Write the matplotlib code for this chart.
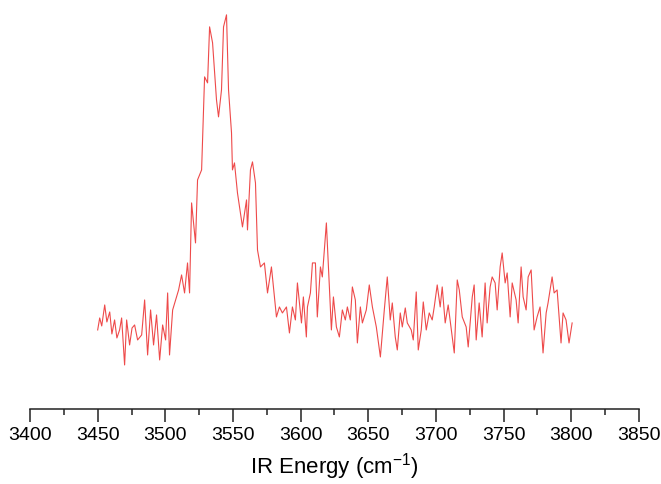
import numpy as np
import matplotlib
matplotlib.use("Agg")
import matplotlib.pyplot as plt
from matplotlib.ticker import MultipleLocator

plt.rcParams['font.family'] = ['Liberation Sans', 'DejaVu Sans']
plt.rcParams['mathtext.fontset'] = 'custom'
plt.rcParams['mathtext.rm'] = 'Liberation Sans'
plt.rcParams['mathtext.it'] = 'Liberation Sans'

# IR spectrum (wavenumber in cm-1, intensity in arbitrary units)
wavenumber = [
    3450.0, 3451.5, 3453.0, 3455.2, 3456.8, 3458.9, 3460.5, 3462.5, 3464.2, 3466.2,
    3467.7, 3469.9, 3471.4, 3473.6, 3475.4, 3477.3,
    3479.5, 3482.5, 3484.7, 3486.9, 3489.1, 3491.3, 3493.5, 3495.8, 3498.0, 3500.2,
    3501.7, 3503.1, 3505.4, 3507.6, 3509.8, 3512.0, 3514.2, 3516.4, 3517.9, 3519.4,
    3522.3, 3523.8, 3526.8, 3529.0, 3531.2, 3532.7, 3534.9, 3537.8, 3539.3, 3541.5,
    3543.0, 3545.2, 3546.7, 3548.9, 3549.6, 3551.1, 3553.3, 3554.8, 3557.0, 3560.0,
    3560.7, 3562.9, 3564.4, 3566.6, 3568.1, 3570.3, 3573.2, 3575.5, 3578.4, 3582.1,
    3584.3, 3586.5, 3589.5, 3591.7, 3593.9, 3596.1, 3597.6, 3600.6, 3602.0, 3604.2,
    3605.0, 3607.2, 3608.7, 3610.9, 3612.3, 3614.6, 3616.0, 3619.0, 3620.5, 3622.7,
    3624.2, 3626.4, 3628.6, 3630.8, 3633.0, 3634.5, 3636.7, 3638.2, 3640.4, 3641.9,
    3644.1, 3645.6, 3648.5, 3650.7, 3653.0, 3655.9, 3658.9, 3661.8, 3664.0, 3666.2,
    3667.7, 3669.9, 3671.4, 3673.6, 3675.1, 3677.3, 3678.8, 3681.7, 3683.2, 3685.4,
    3686.9, 3689.1, 3690.6, 3692.8, 3695.0, 3697.2, 3698.7, 3700.9, 3703.1, 3704.6,
    3706.8, 3709.0, 3712.0, 3713.5, 3715.7, 3717.2, 3719.4, 3722.3, 3723.8, 3726.8,
    3728.2, 3729.7, 3731.9, 3734.1, 3736.3, 3737.8, 3740.0, 3741.5, 3743.7, 3745.2,
    3747.4, 3748.9, 3751.1, 3752.6, 3754.8, 3756.3, 3759.2, 3760.7, 3762.9, 3764.4,
    3766.6, 3768.1, 3770.3, 3772.5, 3774.7, 3776.9, 3779.1, 3781.4, 3782.8, 3785.8,
    3787.3, 3789.5, 3792.4, 3793.9, 3796.1, 3798.3, 3800.6,
]
intensity = [
    70, 82, 74, 95, 78, 88, 66, 80, 62, 70,
    82, 35, 80, 55, 72, 75,
    60, 65, 100, 45, 90, 55, 85, 40, 75, 60,
    107, 45, 90, 100, 110, 125, 107, 137, 107, 197,
    157, 220, 230, 323, 317, 373, 357, 300, 283, 310,
    373, 385, 310, 267, 230, 237, 207, 193, 173, 200,
    170, 230, 238, 217, 150, 133, 137, 107, 133, 83,
    93, 87, 93, 67, 93, 80, 117, 77, 103, 63,
    93, 107, 137, 137, 83, 133, 123, 177, 133, 70,
    103, 73, 63, 90, 80, 93, 80, 113, 100, 57,
    93, 77, 90, 115, 93, 73, 43, 90, 123, 80,
    97, 63, 50, 87, 73, 92, 77, 70, 60, 108,
    50, 70, 98, 70, 87, 80, 93, 115, 93, 113,
    77, 95, 63, 47, 120, 110, 83, 73, 53, 103,
    115, 60, 97, 63, 117, 77, 113, 123, 117, 90,
    133, 147, 117, 127, 83, 117, 100, 77, 133, 103,
    90, 123, 130, 70, 83, 93, 47, 87, 97, 123,
    107, 110, 57, 87, 80, 57, 77,
]

fig = plt.figure(figsize=(6.61, 4.84), dpi=100)
ax = fig.add_axes([0.0454, 0.155, 0.9213, 0.835])

ax.plot(wavenumber, intensity, color='#ee4a4a', lw=0.8)

ax.set_xlim(3400, 3850)
ax.set_ylim(-9, 395)
ax.xaxis.set_major_locator(MultipleLocator(50))
ax.xaxis.set_minor_locator(MultipleLocator(25))
ax.tick_params(axis='x', which='major', direction='out', length=9, width=1.1,
               labelsize=14, pad=4, color='#222222')
ax.tick_params(axis='x', which='minor', direction='out', length=4.5, width=1.1,
               color='#222222')
ax.set_yticks([])
for side in ['left', 'right', 'top']:
    ax.spines[side].set_visible(False)
ax.spines['bottom'].set_linewidth(1.1)
ax.spines['bottom'].set_color('#222222')

ax.set_xlabel('IR Energy (cm$^{-1}$)', fontsize=16, labelpad=5)

fig.savefig('out.png', dpi=100)
